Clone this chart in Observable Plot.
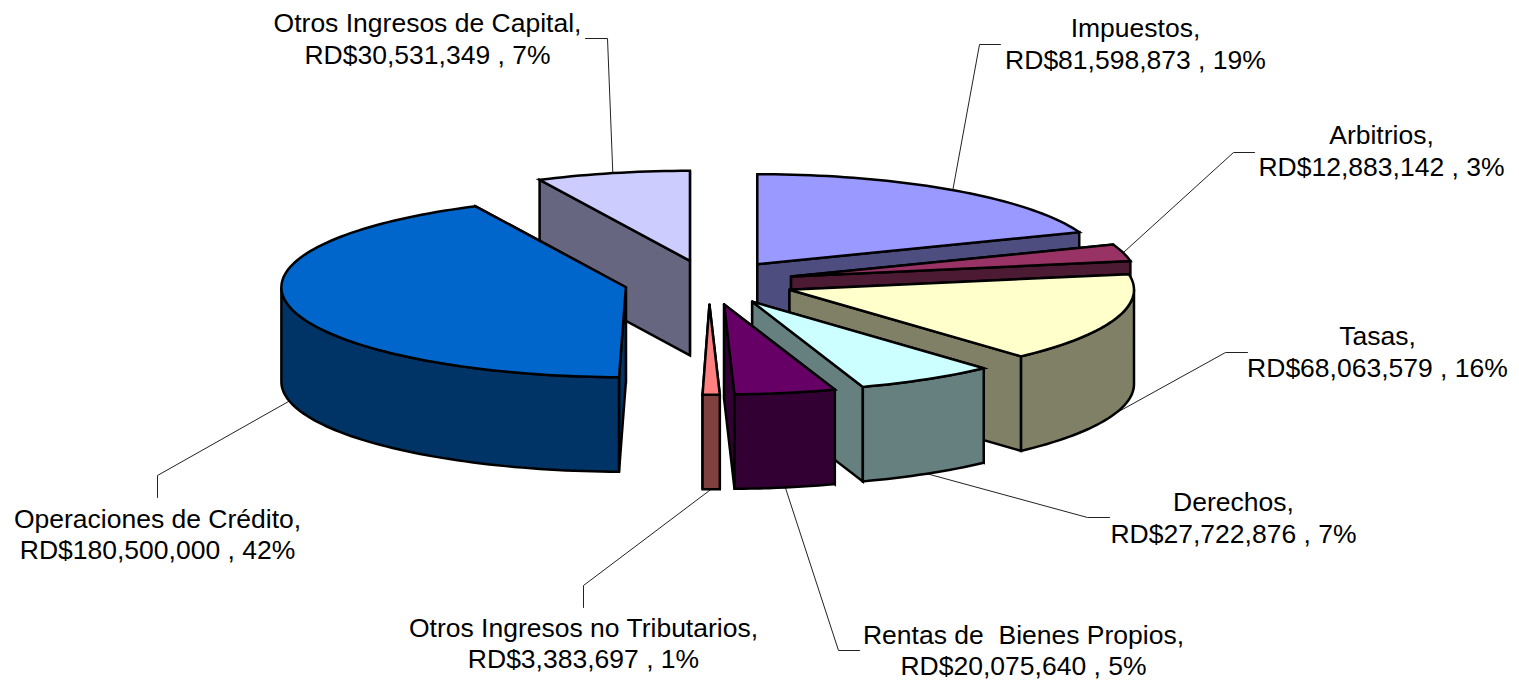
<!DOCTYPE html>
<html>
<head>
<meta charset="utf-8">
<script src="https://cdn.jsdelivr.net/npm/d3@7"></script>
<script src="https://cdn.jsdelivr.net/npm/@observablehq/plot@0.6"></script>
<style>
html,body{margin:0;padding:0;background:#fff}
svg text{white-space:pre}
</style>
</head>
<body>
<div id="chart"></div>
<script>
// Data
const categories = ["Impuestos","Arbitrios","Tasas","Derechos","Rentas de  Bienes Propios","Otros Ingresos no Tributarios","Operaciones de Crédito","Otros Ingresos de Capital"];
const amounts = [81598873,12883142,68063579,27722876,20075640,3383697,180500000,30531349];
const topColors = ["#9999FF","#993366","#FFFFCC","#CCFFFF","#660066","#FF8080","#0066CC","#CCCCFF"];

// Label placement (centre of each two-line label, and its leader elbow and stub end)
const labelX = [1135,1381,1377,1233,1023,583,157,427];
const labelY = [42.5,149.5,350.5,516.5,649,642,533,37.5];
const elbowX = [979,1233,1225,1087,838,583,157,607];
const elbowY = [44,152,352,517,650,585,475,38];
const stubX  = [1000,1254,1247,1109,859,583,157,585];
const stubY  = [44,152,352,517,650,607,497,38];

// 3D pie layout
const W = 1519, H = 683;
const cx = 708.5, cy = 282, rx = 344.5, ry = 90, depth = 94.5, explode = 0.247;

const total = d3.sum(amounts);
const rad = d => d * Math.PI / 180;
let acc = 0;
const slices = categories.map((name, i) => {
  const a0 = acc / total * 360; acc += amounts[i];
  const a1 = acc / total * 360, mid = (a0 + a1) / 2;
  const ax = cx + explode * rx * Math.sin(rad(mid));
  const ay = cy - explode * ry * Math.cos(rad(mid));
  const c = d3.rgb(topColors[i]);
  const side = d3.rgb(c.r / 2, c.g / 2, c.b / 2).formatHex();
  return {i, name, a0, a1, mid, ax, ay, top: topColors[i], side};
});
const rimPoint = (s, a, dz = 0) => [s.ax + rx * Math.sin(rad(a)), s.ay - ry * Math.cos(rad(a)) + dz];
const arc = (s, a0, a1, dz = 0) => {
  const n = Math.max(2, Math.ceil((a1 - a0) / 1.5));
  return d3.range(n + 1).map(k => rimPoint(s, a0 + (a1 - a0) * k / n, dz));
};

// Faces, painted back to front
const faces = [];
const addFace = (pts, fill) => {
  const id = faces.length ? faces[faces.length - 1].id + 1 : 0;
  [...pts, pts[0]].forEach(([x, y]) => faces.push({id, x, y, fill}));
};
[...slices].sort((p, q) => Math.abs(q.mid - 180) - Math.abs(p.mid - 180)).forEach(s => {
  const apex = [s.ax, s.ay], apexLow = [s.ax, s.ay + depth];
  const radial = a => [apex, rimPoint(s, a), rimPoint(s, a, depth), apexLow];
  const ends = [s.a0, s.a1].sort((p, q) => Math.cos(rad(q)) - Math.cos(rad(p)));
  ends.forEach(a => addFace(radial(a), s.side));
  const f0 = Math.max(s.a0, 90), f1 = Math.min(s.a1, 270);
  if (f1 > f0) addFace([...arc(s, f0, f1), ...arc(s, f0, f1, depth).reverse()], s.side);
  addFace([apex, ...arc(s, s.a0, s.a1)], s.top);
});

// Leaders start on the rim at each slice's middle angle
const leaders = slices.flatMap(s => {
  const front = Math.cos(rad(s.mid)) < 0;
  const [x, y] = rimPoint(s, s.mid, front ? depth : 0);
  return [[x, y], [elbowX[s.i], elbowY[s.i]], [stubX[s.i], stubY[s.i]]]
    .map(([px, py]) => ({id: s.i, x: px, y: py}));
});

const labels = slices.map(s => ({
  x: labelX[s.i], y: labelY[s.i],
  text: `${s.name},\nRD$${d3.format(",")(amounts[s.i])} , ${Math.round(amounts[s.i] / total * 100)}%`
}));

const plot = Plot.plot({
  width: W, height: H,
  margin: 0,
  style: {background: "#fff", maxWidth: "none"},
  x: {type: "linear", domain: [0, W], range: [0, W], axis: null},
  y: {type: "linear", domain: [0, H], range: [0, H], axis: null},
  color: {type: "identity"},
  marks: [
    Plot.line(leaders, {x: "x", y: "y", z: "id", stroke: "#222", strokeWidth: 1, curve: "linear"}),
    Plot.line(faces, {x: "x", y: "y", z: "id", fill: "fill", stroke: "#000", strokeWidth: 2.5,
      strokeLinejoin: "miter", strokeMiterlimit: 6, curve: "linear"}),
    Plot.text(labels, {x: "x", y: "y", text: "text", fill: "#000", fontSize: 26.5, lineHeight: 1.18,
      textAnchor: "middle", lineAnchor: "middle", fontFamily: "'Liberation Sans', Arial, sans-serif"})
  ]
});
document.getElementById("chart").appendChild(plot);
</script>
</body>
</html>
